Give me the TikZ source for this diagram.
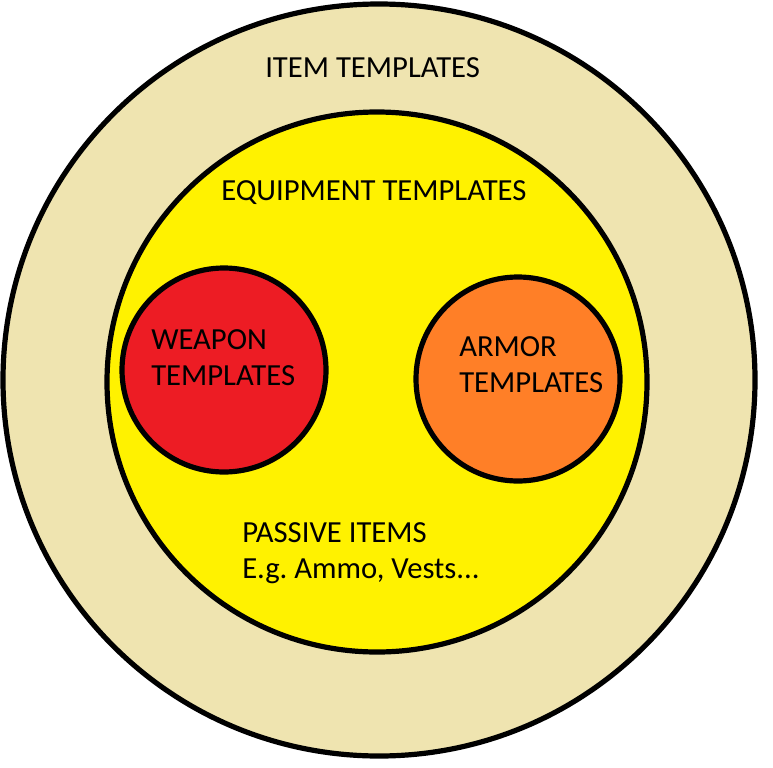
\documentclass[tikz,border=0pt]{standalone}
\usepackage{fontspec}
\setmainfont{Carlito}
\usepackage{xcolor}
\usetikzlibrary{positioning}

\definecolor{tanbg}{HTML}{EFE4B0}
\definecolor{equipyellow}{HTML}{FFF200}
\definecolor{weaponred}{HTML}{ED1C24}
\definecolor{armororange}{HTML}{FF7F27}

\begin{document}
\begin{tikzpicture}[
  x=0.75pt, y=-0.75pt,
  font=\fontsize{23pt}{27pt}\selectfont,
  ring/.style={
    circle,
    draw=black,
    line width=3.9pt,
    inner sep=0pt
  },
  label/.style={
    inner sep=0pt,
    align=left
  }
]
  \useasboundingbox (0,0) rectangle (773,767);

  % nested sets
  \node[ring, fill=tanbg, minimum size=752*0.75pt] (items) at (379,380) {};
  \node[ring, fill=equipyellow, minimum size=540*0.75pt] (equip) at (377,382) {};
  \node[ring, fill=weaponred, minimum size=204*0.75pt] (weapon) at (224,370) {};
  \node[ring, fill=armororange, minimum size=204*0.75pt] (armor) at (518,379) {};

  % texts (base = last line)
  \node[label, anchor=base west] (itemtxt) at (265,77) {ITEM TEMPLATES};
  \node[label, anchor=base west] (equiptxt) at (221,200) {EQUIPMENT TEMPLATES};
  \node[label, anchor=base west] (weapontxt) at (151,385) {WEAPON\\TEMPLATES};
  \node[label, anchor=base west] (armortxt) at (459,392) {ARMOR\\TEMPLATES};
  \node[label, anchor=base west] (passivetxt) at (242,578) {PASSIVE ITEMS\\E.g.\ Ammo, Vests...};
\end{tikzpicture}
\end{document}
